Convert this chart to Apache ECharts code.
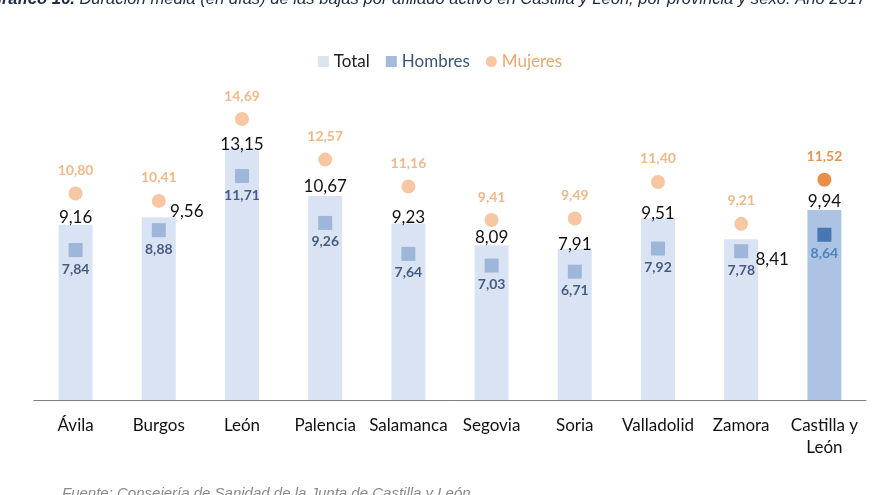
<!DOCTYPE html>
<html>
<head>
<meta charset="utf-8">
<script src="https://cdn.jsdelivr.net/npm/echarts@6/dist/echarts.min.js"></script>
<style>html,body{margin:0;padding:0;background:#fff}#c{width:880px;height:495px}</style>
</head>
<body>
<div id="c"></div>
<script>
var categories = ['Ávila', 'Burgos', 'León', 'Palencia', 'Salamanca', 'Segovia', 'Soria', 'Valladolid', 'Zamora', 'Castilla y\nLeón'];
var total = [9.16, 9.56, 13.15, 10.67, 9.23, 8.09, 7.91, 9.51, 8.41, 9.94];
var hombres = [7.84, 8.88, 11.71, 9.26, 7.64, 7.03, 6.71, 7.92, 7.78, 8.64];
var mujeres = [10.80, 10.41, 14.69, 12.57, 11.16, 9.41, 9.49, 11.40, 9.21, 11.52];

var FONT = 'Lato';
function fmt(v) { return v.toFixed(2).replace('.', ','); }
var last = categories.length - 1;
// per-bar label nudges (as placed in the original)
var totalLabelOffsets = [[0, 1], [28, 3], [0, 5], [0, -1], [0, 3], [0, 1], [0, 4], [0, 4], [31, 29], [0, 0]];

var totalData = total.map(function (v, i) {
  var d = { value: v, label: { offset: totalLabelOffsets[i] } };
  if (i === last) d.itemStyle = { color: '#adc3e3' };
  return d;
});
var hombresData = hombres.map(function (v, i) {
  var d = { value: v };
  if (i === last) { d.itemStyle = { color: '#2f64a7' }; d.label = { color: '#2e75b6' }; }
  return d;
});
var mujeresData = mujeres.map(function (v, i) {
  var d = { value: v };
  if (i === last) { d.itemStyle = { color: '#e2721d' }; d.label = { color: '#e07a26' }; }
  return d;
});

var chart = echarts.init(document.getElementById('c'));
chart.setOption({
  animation: false,
  textStyle: { fontFamily: FONT },
  legend: {
    top: 48, left: 'center', itemGap: 16, itemWidth: 11, itemHeight: 11,
    textStyle: { fontSize: 17, fontFamily: FONT },
    data: [
      { name: 'Total', icon: 'rect', itemStyle: { color: '#dde3ef' }, textStyle: { color: '#222' } },
      { name: 'Hombres', icon: 'rect', textStyle: { color: '#3b5478' } },
      { name: 'Mujeres', icon: 'circle', textStyle: { color: '#e8a870' } }
    ]
  },
  graphic: [
    { type: 'text', left: -11, top: -9, style: {
      text: '{b|Gráfico 16.} Duración media (en días) de las bajas por afiliado activo en Castilla y León, por provincia y sexo. Año 2017',
      fontSize: 16.6, fontStyle: 'italic', fontFamily: 'Liberation Sans', fill: '#1f2a44',
      rich: { b: { fontSize: 16.6, fontStyle: 'italic', fontWeight: 'bold', fontFamily: 'Liberation Sans', fill: '#1f2a44' } }
    } },
    { type: 'text', left: 62, top: 486, style: { text: 'Fuente: Consejería de Sanidad de la Junta de Castilla y León.', fontSize: 15, fontStyle: 'italic', fontFamily: 'Liberation Sans', fill: '#8a8a8a' } }
  ],
  grid: { left: 34, right: 14, top: 94, bottom: 95 },
  xAxis: {
    type: 'category', data: categories,
    axisLine: { lineStyle: { color: '#7f7f7f', width: 1 } },
    axisTick: { show: false },
    axisLabel: { interval: 0, color: '#111', fontSize: 17, fontFamily: FONT, margin: 15, lineHeight: 22 }
  },
  yAxis: { type: 'value', min: 0, max: 16, show: false, splitLine: { show: false } },
  series: [
    {
      name: 'Total', type: 'bar', data: totalData, barWidth: 34,
      itemStyle: { color: '#dae3f3' },
      label: { show: true, position: 'top', distance: 0, color: '#111', fontSize: 17, fontFamily: FONT, formatter: function (p) { return fmt(p.value); } },
      z: 1
    },
    {
      name: 'Hombres', type: 'scatter', data: hombresData, symbol: 'rect', symbolSize: 14,
      itemStyle: { color: '#8eaad2' },
      label: { show: true, position: 'bottom', distance: 5, color: '#1f3a60', fontSize: 14, fontWeight: 'bold', fontFamily: FONT, formatter: function (p) { return fmt(p.value); } },
      z: 3
    },
    {
      name: 'Mujeres', type: 'scatter', data: mujeresData, symbol: 'circle', symbolSize: 14,
      itemStyle: { color: '#f5b88c' },
      label: { show: true, position: 'top', distance: 9, color: '#eaa86c', fontSize: 14, fontWeight: 'bold', fontFamily: FONT, formatter: function (p) { return fmt(p.value); } },
      z: 3
    }
  ]
});
</script>
</body>
</html>
